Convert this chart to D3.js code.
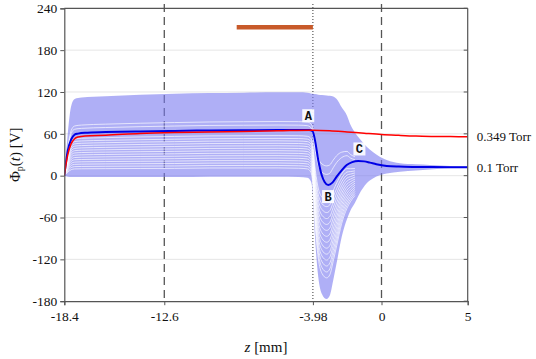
<!DOCTYPE html>
<html><head><meta charset="utf-8">
<script src="https://cdn.jsdelivr.net/npm/d3@7"></script>
<style>body{margin:0;background:#fff} svg{display:block}</style>
</head><body><svg id="c" width="536" height="359"></svg>
<script>
// ---------------- data ----------------
const yTicks = [-180, -120, -60, 0, 60, 120, 180, 240];
const xTicks = [-18.4, -12.6, -3.98, 0, 5];
const xTickLabels = ["-18.4", "-12.6", "-3.98", "0", "5"];
const dashedZ = [-12.6, 0];
const dottedZ = [-3.98];

// envelope of all Phi_p(t) curves (shaded band)
const envZ     = [-18.4,-18.3,-18.2,-18.0,-17.8,-17.4,-16,-14,-12,-10,-8,-6,-4.8,-4.3,-4.1,-3.99,-3.86,-3.67,-3.45,-3.18,-3.0,-2.8,-2.6,-2.31,-2.0,-1.8,-1.54,-1.3,-0.86,-0.5,-0.1,0.3,1.07,2,2.81,4,5];
const envUpper = [0,30,60,100,110,112,114,116,117.5,118.5,119,119.5,119.5,119,118,117.5,117,116,115.5,115,114.5,113.5,110,98,86,73,62,54,41.6,34,27,22.5,17.8,16.3,15.3,14,13.5];
const envLower = [0,-1,-1.5,-2,-2,-2,-2,-2,-2,-1.5,-1.5,-1.5,-2,-3,-8,-25,-87,-145,-170,-177,-172,-150,-125,-88,-62,-50,-39,-27,-11,-4,0.5,3,5.7,7.5,9,11,12];
// plateau levels (V) of the white gaps between individual curves
const gapLevels = [11, 14.5, 18, 21.5, 25, 28.5, 32, 35.5, 39, 42.5, 46, 49.5, 53, 57, 72, 77];
const gapEndZ = -1.54;

// 0.1 Torr curve
const torr01Z = [-18.4,-18.2,-18.0,-17.8,-17.6,-17.2,-16,-14,-12,-10,-8,-6,-4.6,-4.2,-4.0,-3.86,-3.67,-3.47,-3.3,-3.09,-2.85,-2.6,-2.3,-2.02,-1.7,-1.35,-1.0,-0.67,-0.3,0.3,1.0,2.0,2.81,4,5];
const torr01V = [0,36,52,59,60.3,61.5,62.5,63.5,64.2,64.8,65.2,65.5,65.6,65.4,64,51,22.5,1,-9,-13.3,-10,-1.4,8,15.3,19.5,21,20.5,18.7,16.5,14,13,12.5,12.3,12.2,12.2];
// 0.349 Torr curve
const torr349Z = [-18.4,-18.2,-18.0,-17.8,-17.6,-17.2,-16,-14,-12,-10,-8,-6,-4,-3,-2,-1,0,1,2,3,4,5];
const torr349V = [0,30,46,53,55.5,57,58,60.5,61.8,62.5,63.3,64.3,65.3,64.5,62.7,60.8,59,57.8,56.8,56.3,56,55.8];

const barZ = [-8.4, -3.98];
const barV = 213;
const markerLabels = ["A", "B", "C"];
const markerZ = [-4.25, -3.1, -1.28];
const markerV = [86, -30, 38.3];
const seriesNames = ["0.349 Torr", "0.1 Torr"];
const seriesEndV = [56, 12];

// ---------------- drawing ----------------
const svg = d3.select("#c");
const x = d3.scaleLinear().domain([-18.4, 5]).range([64.3, 467.7]);
const y = d3.scaleLinear().domain([-180, 240]).range([301.2, 8.3]);
const X0 = x.range()[0], X1 = x.range()[1], Y0 = y.range()[1], Y1 = y.range()[0];
const serif = "'Liberation Serif', 'Times New Roman', serif";

svg.append("defs").append("clipPath").attr("id","clip")
  .append("rect").attr("x",X0).attr("y",Y0).attr("width",X1-X0).attr("height",Y1-Y0);

// grid
svg.append("g").selectAll("line").data(yTicks.filter(d=>d!==240 && d!==-180)).join("line")
  .attr("x1",X0).attr("x2",X1).attr("y1",d=>y(d)).attr("y2",d=>y(d))
  .attr("stroke","#e6e6e6").attr("stroke-width",1);

// vertical reference lines
svg.append("g").selectAll("line").data(dashedZ).join("line")
  .attr("x1",d=>x(d)).attr("x2",d=>x(d)).attr("y1",4).attr("y2",Y1)
  .attr("stroke","#555").attr("stroke-width",1.3).attr("stroke-dasharray","8,5");
svg.append("g").selectAll("line").data(dottedZ).join("line")
  .attr("x1",d=>x(d)).attr("x2",d=>x(d)).attr("y1",4).attr("y2",Y1)
  .attr("stroke","#333").attr("stroke-width",1).attr("stroke-dasharray","1,2");

const plot = svg.append("g").attr("clip-path","url(#clip)");

// band
const envData = envZ.map((z,i)=>({z, u:envUpper[i], l:envLower[i]}));
plot.append("path").datum(envData)
  .attr("d", d3.area().x(d=>x(d.z)).y0(d=>y(d.l)).y1(d=>y(d.u)).curve(d3.curveMonotoneX))
  .attr("fill","#7a7af0").attr("fill-opacity",0.6);

// white gaps between individual curves
const refIdx = envZ.indexOf(-10);
const lineGen = d3.line().x(d=>x(d[0])).y(d=>y(d[1])).curve(d3.curveMonotoneX);
gapLevels.forEach(level=>{
  const f = (level - envLower[refIdx])/(envUpper[refIdx]-envLower[refIdx]);
  const pts = envZ.map((z,i)=>[z, envLower[i] + f*(envUpper[i]-envLower[i])]).filter(p=>p[0]<=gapEndZ);
  plot.append("path").datum(pts).attr("d",lineGen)
    .attr("fill","none").attr("stroke","#fff").attr("stroke-width",0.9).attr("stroke-opacity",0.75);
});

// curves
plot.append("path").datum(torr01Z.map((z,i)=>[z,torr01V[i]])).attr("d",lineGen)
  .attr("fill","none").attr("stroke","#0000e6").attr("stroke-width",2);
plot.append("path").datum(torr349Z.map((z,i)=>[z,torr349V[i]])).attr("d",lineGen)
  .attr("fill","none").attr("stroke","#ff0000").attr("stroke-width",1.5);

// orange bar
svg.append("line").attr("x1",x(barZ[0])).attr("x2",x(barZ[1])).attr("y1",y(barV)).attr("y2",y(barV))
  .attr("stroke","#c85a2a").attr("stroke-width",4.5);

// axes frame
const axisColor = "#555";
svg.append("line").attr("x1",X0).attr("x2",X1).attr("y1",Y0).attr("y2",Y0).attr("stroke",axisColor).attr("stroke-width",1.2);
svg.append("line").attr("x1",X1).attr("x2",X1).attr("y1",Y0).attr("y2",Y1).attr("stroke",axisColor).attr("stroke-width",1.2);
svg.append("g").selectAll("line").data(yTicks).join("line")
  .attr("x1",X1-4).attr("x2",X1).attr("y1",d=>y(d)).attr("y2",d=>y(d)).attr("stroke",axisColor);

const yAxis = svg.append("g").attr("transform",`translate(${X0},0)`)
  .call(d3.axisLeft(y).tickValues(yTicks).tickSize(4).tickPadding(3).tickFormat(d=>String(d)));
const xAxis = svg.append("g").attr("transform",`translate(0,${Y1})`)
  .call(d3.axisBottom(x).tickValues(xTicks).tickSize(4).tickPadding(6).tickFormat((d,i)=>xTickLabels[i]));
[yAxis,xAxis].forEach(a=>{
  a.select(".domain").attr("stroke",axisColor).attr("stroke-width",1.2);
  a.selectAll(".tick line").attr("stroke",axisColor);
  a.selectAll(".tick text").attr("fill","#111").style("font-family",serif).style("font-size","13.5px");
});

// marker labels
const mk = svg.append("g").selectAll("g").data(markerLabels).join("g")
  .attr("transform",(d,i)=>`translate(${x(markerZ[i])},${y(markerV[i])})`);
mk.append("rect").attr("x",-6).attr("y",-6.5).attr("width",12).attr("height",13).attr("fill","#fff").attr("fill-opacity",0.9);
mk.append("text").text(d=>d).attr("text-anchor","middle").attr("dy","0.36em")
  .style("font-family","'Liberation Mono', monospace").style("font-weight","bold").style("font-size","12px").attr("fill","#111");

// series labels at right
svg.append("g").selectAll("text").data(seriesNames).join("text")
  .attr("x",X1+9).attr("y",(d,i)=>y(seriesEndV[i])).attr("dy","0.35em").text(d=>d)
  .style("font-family",serif).style("font-size","13px").attr("fill","#111");

// axis titles
const xt = svg.append("text").attr("x",(X0+X1)/2).attr("y",352).attr("text-anchor","middle")
  .style("font-family",serif).style("font-size","15px").attr("fill","#111");
xt.append("tspan").text("z").style("font-style","italic");
xt.append("tspan").text(" [mm]");

const yt = svg.append("text").attr("transform",`translate(20,${(Y0+Y1)/2}) rotate(-90)`).attr("text-anchor","middle")
  .style("font-family",serif).style("font-size","15px").attr("fill","#111");
yt.append("tspan").text("Φ");
yt.append("tspan").text("p").attr("dy","3").style("font-size","10px");
yt.append("tspan").text("(").attr("dy","-3");
yt.append("tspan").text("t").style("font-style","italic");
yt.append("tspan").text(")  [V]");
</script></body></html>
